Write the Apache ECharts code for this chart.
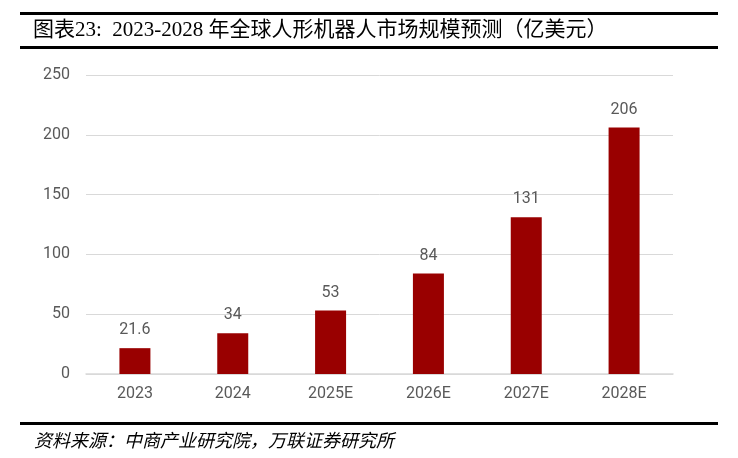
<!DOCTYPE html>
<html><head><meta charset="utf-8">
<script src="https://cdn.jsdelivr.net/npm/echarts@6/dist/echarts.min.js"></script>
<style>html,body{margin:0;padding:0;background:#fff}#c{width:738px;height:458px}</style>
</head><body><div id="c"></div>
<script>
const categories = ['2023','2024','2025E','2026E','2027E','2028E'];
const values = [21.6, 34, 53, 84, 131, 206];
const yTicks = [0, 50, 100, 150, 200, 250];
const titleText = '图表23:  2023-2028 年全球人形机器人市场规模预测（亿美元）';
const sourceText = '资料来源：中商产业研究院，万联证券研究所';

const chart = echarts.init(document.getElementById('c'), null, {renderer:'canvas'});
chart.setOption({
  animation: false,
  backgroundColor: '#fff',
  grid: {left: 86, right: 65, top: 75, bottom: 84, containLabel: false},
  xAxis: {
    type: 'category', data: categories,
    axisLine: {show: true, lineStyle: {color: '#d9d9d9', width: 1.5}},
    axisTick: {show: false},
    axisLabel: {color: '#595959', fontSize: 16, fontFamily: 'Roboto, "Noto Sans", sans-serif', margin: 12}
  },
  yAxis: {
    type: 'value', min: yTicks[0], max: yTicks[yTicks.length-1], interval: yTicks[1]-yTicks[0],
    axisLine: {show: false}, axisTick: {show: false},
    splitLine: {lineStyle: {color: '#d9d9d9', width: 1}},
    axisLabel: {color: '#595959', fontSize: 16, fontFamily: 'Roboto, "Noto Sans", sans-serif', margin: 16}
  },
  series: [{
    type: 'bar', data: values, barWidth: 31,
    itemStyle: {color: '#990000'},
    label: {show: true, position: 'top', distance: 10, color: '#595959', fontSize: 16,
            fontFamily: 'Roboto, "Noto Sans", sans-serif'}
  }],
  graphic: [
    {type: 'rect', shape: {x: 20, y: 12, width: 698, height: 3}, style: {fill: '#000'}},
    {type: 'text', x: 33, y: 30, style: {text: titleText, fill: '#000', font: '21px "Liberation Serif", "Noto Sans CJK SC", serif', textVerticalAlign: 'middle'}},
    {type: 'rect', shape: {x: 20, y: 46, width: 698, height: 3}, style: {fill: '#000'}},
    {type: 'rect', shape: {x: 20, y: 422, width: 698, height: 3}, style: {fill: '#000'}},
    {type: 'text', x: 34, y: 440, style: {text: sourceText, fill: '#000', font: 'italic 18px "Noto Sans CJK SC", sans-serif', textVerticalAlign: 'middle'}}
  ]
});
</script></body></html>
